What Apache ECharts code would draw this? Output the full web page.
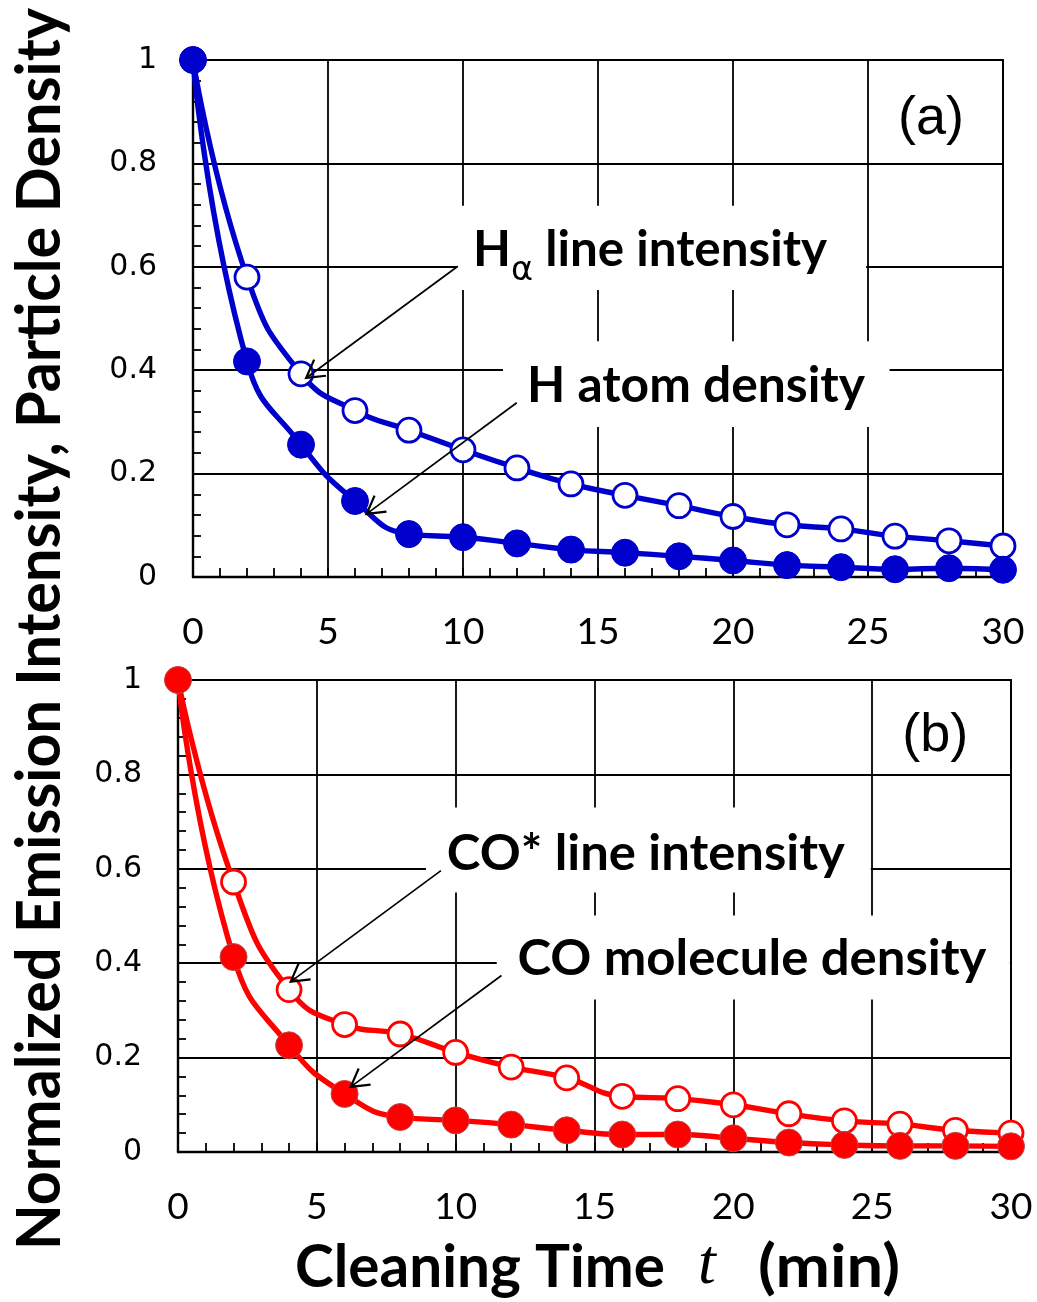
<!DOCTYPE html>
<html>
<head>
<meta charset="utf-8">
<title>Normalized emission intensity and particle density vs cleaning time</title>
<script src="https://cdn.jsdelivr.net/npm/echarts@6/dist/echarts.min.js"></script>
<style>
  html, body { margin: 0; padding: 0; background: #fff; }
  #chart { width: 1037px; height: 1302px; }
</style>
</head>
<body>
<div id="chart"></div>
<script>
// Cleaning time t (min), one sample every 2 min
const cleaningTime = [0, 2, 4, 6, 8, 10, 12, 14, 16, 18, 20, 22, 24, 26, 28, 30];

// Panel (a): hydrogen
const hAlphaIntensity = [1, 0.58, 0.393, 0.322, 0.284, 0.246, 0.211, 0.180, 0.158, 0.138, 0.117, 0.101, 0.093, 0.079, 0.070, 0.060];
const hAtomDensity    = [1, 0.417, 0.256, 0.147, 0.083, 0.077, 0.065, 0.053, 0.047, 0.040, 0.032, 0.023, 0.019, 0.015, 0.017, 0.014];

// Panel (b): carbon monoxide
const coStarIntensity   = [1, 0.572, 0.344, 0.270, 0.250, 0.211, 0.180, 0.157, 0.118, 0.113, 0.100, 0.081, 0.066, 0.059, 0.046, 0.040];
const coMoleculeDensity = [1, 0.413, 0.226, 0.123, 0.074, 0.067, 0.058, 0.046, 0.037, 0.037, 0.029, 0.020, 0.015, 0.013, 0.013, 0.012];

// Axis ranges and tick steps
const timeRange = [0, 30];
const timeStep = 5;
const valueRange = [0, 1];
const valueStep = 0.2;

const BLUE = '#0000cc';
const RED = '#ff0000';
const RED_EDGE = '#b84a4a';

const pairs = (ys) => cleaningTime.map((t, i) => [t, ys[i]]);

const chart = echarts.init(document.getElementById('chart'), null, { renderer: 'canvas', width: 1037, height: 1302 });

function timeAxis(gridIndex) {
  return {
    type: 'value', gridIndex,
    min: timeRange[0], max: timeRange[1], interval: timeStep,
    axisLine: { show: true, onZero: false, lineStyle: { color: '#000', width: 2.4 } },
    axisTick: { show: true, inside: true, length: 9, lineStyle: { color: '#000', width: 1.8 } },
    minorTick: { show: true, splitNumber: 5, length: 9, lineStyle: { color: '#000', width: 1.8 } },
    splitLine: { show: true, lineStyle: { color: '#000', width: 1.8 } },
    axisLabel: { margin: 37, color: '#000', fontFamily: 'Lato', fontSize: 37 }
  };
}

function valueAxis(gridIndex) {
  return {
    type: 'value', gridIndex,
    min: valueRange[0], max: valueRange[1], interval: valueStep,
    axisLine: { show: true, onZero: false, lineStyle: { color: '#000', width: 2.4 } },
    axisTick: { show: true, inside: true, length: 8, lineStyle: { color: '#000', width: 1.8 } },
    minorTick: { show: true, splitNumber: 5, length: 8, lineStyle: { color: '#000', width: 1.8 } },
    splitLine: { show: true, lineStyle: { color: '#000', width: 1.8 } },
    axisLabel: { margin: 36, color: '#000', fontFamily: 'DejaVu Sans', fontSize: 30 }
  };
}

function curve(name, gridIndex, values, color, filled) {
  return {
    type: 'line', name,
    xAxisIndex: gridIndex, yAxisIndex: gridIndex,
    data: pairs(values),
    smooth: 0.5,
    clip: false,
    silent: true,
    animation: false,
    symbol: 'circle',
    symbolSize: filled ? 27 : 24,
    showAllSymbol: true,
    lineStyle: { color, width: 5.4 },
    itemStyle: filled
      ? { color, borderColor: color === RED ? RED_EDGE : color, borderWidth: 1 }
      : { color: '#fff', borderColor: color, borderWidth: 2.8 },
    z: filled ? 4 : 3
  };
}

chart.setOption({
  backgroundColor: '#fff',
  animation: false,
  grid: [
    { left: 193, top: 60, width: 810, height: 517, show: true, borderColor: '#000', borderWidth: 1.8 },
    { left: 178, top: 680, width: 833, height: 472, show: true, borderColor: '#000', borderWidth: 1.8 }
  ],
  xAxis: [timeAxis(0), timeAxis(1)],
  yAxis: [valueAxis(0), valueAxis(1)],
  series: [
    curve('Hα line intensity', 0, hAlphaIntensity, BLUE, false),
    curve('H atom density', 0, hAtomDensity, BLUE, true),
    curve('CO* line intensity', 1, coStarIntensity, RED, false),
    curve('CO molecule density', 1, coMoleculeDensity, RED, true)
  ]
});

// ---- annotations: white label boxes, callout text and arrows ----
const measureCtx = document.createElement('canvas').getContext('2d');
function textWidth(str, font) {
  measureCtx.font = font;
  return measureCtx.measureText(str).width;
}

const MAIN_FONT = 'bold 50px Lato';
const SUB_FONT = '34px "DejaVu Sans"';

// box: [t0, v0, t1, v1] in data units; at: text centre; span: text length in px
const callouts = [
  { grid: 0, parts: [['H', 'main'], ['α', 'sub'], [' line intensity', 'main']],
    at: [16.93, 0.632], span: 354, box: [9.78, 0.718, 24.93, 0.555], from: [9.81, 0.601], to: [4.19, 0.385] },
  { grid: 0, parts: [['H atom density', 'main']],
    at: [18.63, 0.369], span: 338, box: [11.48, 0.456, 25.8, 0.290], from: [11.99, 0.337], to: [6.43, 0.122] },
  { grid: 1, parts: [['CO* line intensity', 'main']],
    at: [16.85, 0.632], span: 398, box: [8.93, 0.730, 24.95, 0.550], from: [9.47, 0.596], to: [4.06, 0.361] },
  { grid: 1, parts: [['CO molecule density', 'main']],
    at: [20.67, 0.410], span: 469, box: [11.48, 0.501, 29.96, 0.323], from: [11.65, 0.374], to: [6.22, 0.138] }
];

const toPx = (g, p) => chart.convertToPixel({ gridIndex: g }, p);

function arrow(p0, tip) {
  const dx = p0[0] - tip[0], dy = p0[1] - tip[1];
  const len = Math.hypot(dx, dy);
  const ux = dx / len, uy = dy / len;
  const L = 20, a = 30 * Math.PI / 180;
  const rot = (s) => [tip[0] + L * (ux * Math.cos(s) - uy * Math.sin(s)), tip[1] + L * (ux * Math.sin(s) + uy * Math.cos(s))];
  return [
    { type: 'line', z: 6, silent: true, shape: { x1: p0[0], y1: p0[1], x2: tip[0], y2: tip[1] },
      style: { stroke: '#000', lineWidth: 1.7 } },
    { type: 'polyline', z: 6, silent: true, shape: { points: [rot(a), tip, rot(-a)] },
      style: { stroke: '#000', lineWidth: 2.2, fill: null, lineJoin: 'miter' } }
  ];
}

const elements = [];

callouts.forEach((c) => {
  const b0 = toPx(c.grid, [c.box[0], c.box[1]]);
  const b1 = toPx(c.grid, [c.box[2], c.box[3]]);
  elements.push({
    type: 'rect', z: 1, silent: true,
    shape: { x: b0[0], y: b0[1], width: b1[0] - b0[0], height: b1[1] - b0[1] },
    style: { fill: '#fff' }
  });

  const widths = c.parts.map(([s, kind]) => textWidth(s, kind === 'sub' ? SUB_FONT : MAIN_FONT));
  const total = widths.reduce((a, b) => a + b, 0);
  const centre = toPx(c.grid, c.at);
  let cursor = -total / 2;
  const children = c.parts.map(([s, kind], i) => {
    const el = {
      type: 'text', x: cursor, y: kind === 'sub' ? 21 : 0, z: 7, silent: true,
      style: { text: s, font: kind === 'sub' ? SUB_FONT : MAIN_FONT, fill: '#000',
               textAlign: 'left', textVerticalAlign: 'middle' }
    };
    cursor += widths[i];
    return el;
  });
  elements.push({ type: 'group', x: centre[0], y: centre[1], scaleX: c.span / total, z: 7, children });

  elements.push(...arrow(toPx(c.grid, c.from), toPx(c.grid, c.to)));
});

// panel tags
[['(a)', 0, [27.33, 0.886]], ['(b)', 1, [27.27, 0.882]]].forEach(([tag, g, p]) => {
  const pos = toPx(g, p);
  elements.push({
    type: 'text', x: pos[0], y: pos[1], z: 6, silent: true,
    style: { text: tag, font: '54px "Liberation Sans"', fill: '#000', textAlign: 'center', textVerticalAlign: 'middle' }
  });
});

// shared y-axis title, reading bottom to top
const Y_TITLE = 'Normalized Emission Intensity, Particle Density';
const Y_FONT = 'bold 61px Lato';
elements.push({
  type: 'text', x: 40, y: 629, rotation: Math.PI / 2, scaleX: 1242 / textWidth(Y_TITLE, Y_FONT), z: 6, silent: true,
  style: { text: Y_TITLE, font: Y_FONT, fill: '#000', textAlign: 'center', textVerticalAlign: 'middle' }
});

// shared x-axis title: "Cleaning Time  t  (min)"
const X_FONT = 'bold 59px Lato';
const T_FONT = 'italic 64px "Liberation Serif"';
const xTitleY = 1268;
elements.push({
  type: 'text', x: 295, y: xTitleY, scaleX: 370 / textWidth('Cleaning Time', X_FONT), z: 6, silent: true,
  style: { text: 'Cleaning Time', font: X_FONT, fill: '#000', textAlign: 'left', textVerticalAlign: 'middle' }
});
elements.push({
  type: 'text', x: 707, y: xTitleY - 2, z: 6, silent: true,
  style: { text: 't', font: T_FONT, fill: '#000', textAlign: 'center', textVerticalAlign: 'middle' }
});
elements.push({
  type: 'text', x: 758, y: xTitleY, scaleX: 142 / textWidth('(min)', X_FONT), z: 6, silent: true,
  style: { text: '(min)', font: X_FONT, fill: '#000', textAlign: 'left', textVerticalAlign: 'middle' }
});

chart.setOption({ graphic: { elements } });
</script>
</body>
</html>
